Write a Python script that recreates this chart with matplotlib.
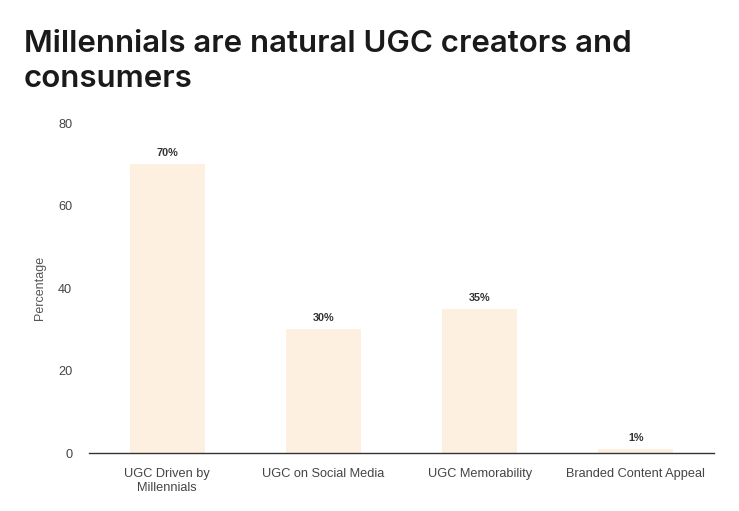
import numpy as np
import matplotlib.pyplot as plt

categories = ['UGC Driven by\nMillennials', 'UGC on Social Media',
              'UGC Memorability', 'Branded Content Appeal']
values = [70, 30, 35, 1]
labels = ['70%', '30%', '35%', '1%']

plt.rcParams['font.family'] = ['Liberation Sans', 'DejaVu Sans']

fig = plt.figure(figsize=(7.39, 5.11), dpi=100)
ax = fig.add_axes([89 / 739, 1 - 453 / 511, 625 / 739, 330 / 511])

x = np.arange(len(categories))
bars = ax.bar(x, values, width=0.48, color='#fdf0e0')

for b, lab in zip(bars, labels):
    ax.text(b.get_x() + b.get_width() / 2, b.get_height() + 1.4, lab,
            ha='center', va='bottom', fontsize=7.8, fontweight='bold', color='#333333')

ax.set_xlim(-0.5, 3.5)
ax.set_ylim(0, 80)
ax.set_yticks([0, 20, 40, 60, 80])
ax.set_xticks(x)
ax.set_xticklabels(categories, fontsize=9.2, color='#444444')
ax.tick_params(axis='y', length=0, pad=12, labelsize=9.2, labelcolor='#444444')
ax.tick_params(axis='x', length=0, pad=11)
ax.set_ylabel('Percentage', fontsize=9, color='#555555', labelpad=9)

for s in ['top', 'right', 'left']:
    ax.spines[s].set_visible(False)
ax.spines['bottom'].set_color('#333333')
ax.spines['bottom'].set_linewidth(1.0)

fig.text(24 / 739, 1 - 30 / 511, 'Millennials are natural UGC creators and\nconsumers',
         fontsize=22.5, fontweight='semibold', family=['Inter', 'DejaVu Sans'],
         color='#1a1a1a', va='top', ha='left', linespacing=1.3)

plt.savefig('out.png')
